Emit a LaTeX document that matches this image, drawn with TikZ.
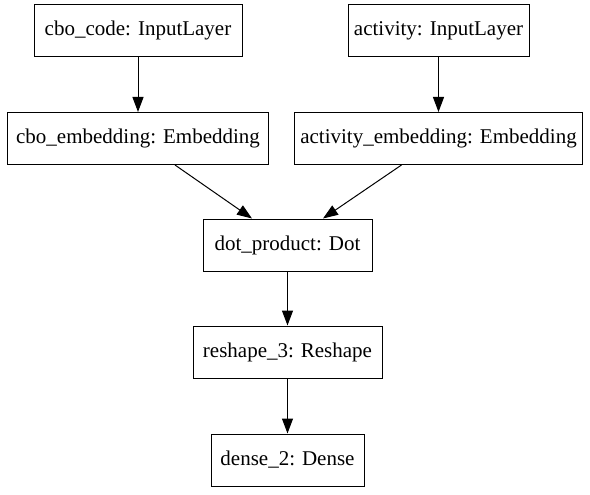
\documentclass[tikz,border=0pt]{standalone}
\usepackage{fontspec}
\setmainfont{Liberation Serif}
\usetikzlibrary{arrows.meta,positioning}
\tikzset{
  layer/.style={draw=black, line width=1pt, fill=white, minimum width=#1, minimum height=52pt, inner sep=0pt, font=\fontsize{21}{25}\selectfont},
  arr/.style={-{Triangle[length=15pt,width=11pt]}, line width=1pt, draw=black}
}
\begin{document}
\begin{tikzpicture}[x=1pt, y=-1pt]
  \useasboundingbox (0,0) rectangle (590,495);
  \node[layer=208pt] (code) at (138,30.5) {cbo\_code: InputLayer};
  \node[layer=181pt] (act) at (438.5,30.5) {activity: InputLayer};
  \node[layer=261pt, below=55pt of code] (cboemb) {cbo\_embedding: Embedding};
  \node[layer=288pt, below=55pt of act] (actemb) {activity\_embedding: Embedding};
  \node[layer=169pt] (dot) at (287.5,245) {dot\_product: Dot};
  \node[layer=189pt, below=54pt of dot] (reshape) {reshape\_3: Reshape};
  \node[layer=153pt, below=55pt of reshape] (dense) {dense\_2: Dense};

  \draw[arr] (code) -- (cboemb);
  \draw[arr] (act) -- (actemb);
  \draw[arr] ([xshift=37pt]cboemb.south) -- ([xshift=-35.5pt]dot.north);
  \draw[arr] ([xshift=-37pt]actemb.south) -- ([xshift=35.5pt]dot.north);
  \draw[arr] (dot) -- (reshape);
  \draw[arr] (reshape) -- (dense);
\end{tikzpicture}
\end{document}
